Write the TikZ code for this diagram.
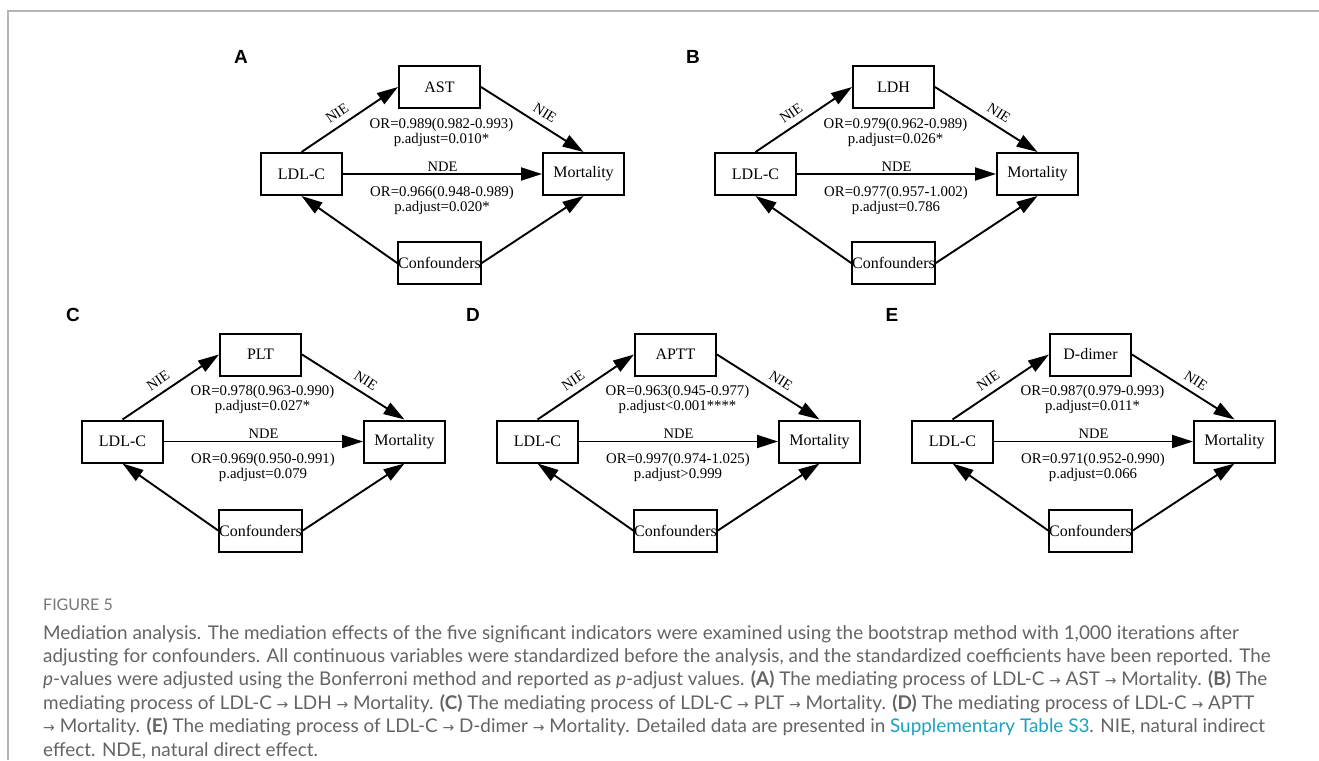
\documentclass[tikz,border=0pt]{standalone}
\usepackage{fontspec}
\setmainfont{Lato}
\newfontfamily\tnr{Liberation Serif}
\newfontfamily\arl{Liberation Sans}
\newfontfamily\dvs{DejaVu Sans}
\usetikzlibrary{arrows.meta}
\definecolor{capgray}{HTML}{646464}
\definecolor{figgray}{HTML}{767676}
\definecolor{linkc}{HTML}{1DA1C2}
\definecolor{frameg}{HTML}{B5B5B5}
\newcommand\myarr{{\dvs\fontsize{14}{14}\selectfont →}}
\tikzset{
  nbox/.style={draw=black, line width=2pt, minimum width=81pt, minimum height=42pt, inner sep=0pt,
    font=\tnr\fontsize{16}{17}\selectfont},
  arr/.style={line width=1.9pt, -{Triangle[length=21pt,width=13pt]}},
  elab/.style={font=\tnr\fontsize{14.5}{15}\selectfont, inner sep=1.5pt},
  orlab/.style={font=\tnr\fontsize{14.8}{15}\selectfont, inner sep=0pt, align=center},
  plabel/.style={font=\arl\bfseries\fontsize{19}{19}\selectfont, inner sep=0pt},
}
\newcommand\medpanel[8]{%
  \node[nbox] (#1-l) at (#2,#3) {LDL-C};
  \node[nbox] (#1-m) at ({#2+138},{#3-87}) {#4};
  \node[nbox] (#1-o) at ({#2+282},#3) {Mortality};
  \node[nbox] (#1-c) at ({#2+138},{#3+89}) {Confounders};
  \draw[arr] (#1-l.north) -- node[elab, sloped, above=5pt, pos=0.44] (#1-nie1) {NIE} (#1-m.west);
  \draw[arr] (#1-m.east) -- node[elab, sloped, above=5pt, pos=0.56] (#1-nie2) {NIE} (#1-o.north);
  \draw[arr] (#1-l.east) -- node[elab, above=0.5pt, midway] (#1-nde) {NDE} (#1-o.west);
  \draw[arr] (#1-c.west) -- (#1-l.south);
  \draw[arr] (#1-c.east) -- (#1-o.south);
  \node[orlab] (#1-or1) at ({#2+140},{#3-42}) {#5\\#6};
  \node[orlab] (#1-or2) at ({#2+140.5},{#3+26}) {#7\\#8};
}
\begin{document}
\begin{tikzpicture}[x=1pt,y=-1pt]
\useasboundingbox (0,0) rectangle (1319,760);
\fill[white] (0,0) rectangle (1319,760);
% frame
\draw[frameg, line width=2pt] (8,760) -- (8,11) -- (1319,11);
% panels
\medpanel{A}{301.5}{174}{AST}{OR=0.989(0.982-0.993)}{p.adjust=0.010*}{OR=0.966(0.948-0.989)}{p.adjust=0.020*}
\medpanel{B}{755.5}{174}{LDH}{OR=0.979(0.962-0.989)}{p.adjust=0.026*}{OR=0.977(0.957-1.002)}{p.adjust=0.786}
\medpanel{C}{122.5}{441.5}{PLT}{OR=0.978(0.963-0.990)}{p.adjust=0.027*}{OR=0.969(0.950-0.991)}{p.adjust=0.079}
\medpanel{D}{537.5}{441.5}{APTT}{OR=0.963(0.945-0.977)}{p.adjust<0.001****}{OR=0.997(0.974-1.025)}{p.adjust>0.999}
\medpanel{E}{952.5}{441.5}{D-dimer}{OR=0.987(0.979-0.993)}{p.adjust=0.011*}{OR=0.971(0.952-0.990)}{p.adjust=0.066}
\node[plabel] (la) at (241,57) {A};
\node[plabel] (lb) at (693,57) {B};
\node[plabel] (lc) at (73,315) {C};
\node[plabel] (ld) at (473,315) {D};
\node[plabel] (le) at (892,315) {E};
% caption
\node[anchor=base west, inner sep=0pt, text=figgray, font=\fontsize{16}{16}\selectfont] (fig) at (43,610) {FIGURE 5};
\node[anchor=north west, inner sep=0pt, align=left, text=capgray, font=\fontsize{18.9}{23.4}\selectfont] (cap) at (43,625) {%
Mediation analysis. The mediation effects of the five significant indicators were examined using the bootstrap method with 1,000 iterations after\\
adjusting for confounders. All continuous variables were standardized before the analysis, and the standardized coefficients have been reported. The\\
\textit{p}-values were adjusted using the Bonferroni method and reported as \textit{p}-adjust values. \textbf{(A)} The mediating process of LDL-C \myarr{} AST \myarr{} Mortality. \textbf{(B)} The\\
mediating process of LDL-C \myarr{} LDH \myarr{} Mortality. \textbf{(C)} The mediating process of LDL-C \myarr{} PLT \myarr{} Mortality. \textbf{(D)} The mediating process of LDL-C \myarr{} APTT\\
\myarr{} Mortality. \textbf{(E)} The mediating process of LDL-C \myarr{} D-dimer \myarr{} Mortality. Detailed data are presented in {\color{linkc}Supplementary Table S3}. NIE, natural indirect\\
effect. NDE, natural direct effect.};
\end{tikzpicture}
\end{document}
